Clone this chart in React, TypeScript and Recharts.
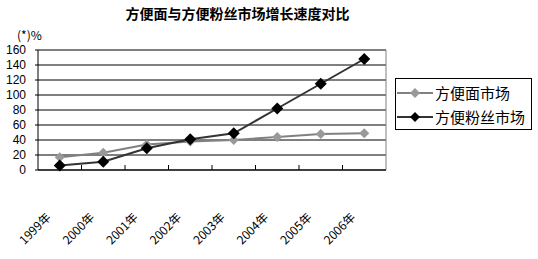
import { LineChart, Line, XAxis, YAxis, CartesianGrid, ReferenceLine } from 'recharts';

const years = ['1999年', '2000年', '2001年', '2002年', '2003年', '2004年', '2005年', '2006年'];
const noodles = [17, 23, 34, 38, 40, 44, 48, 49];
const vermicelli = [6, 11, 29, 41, 49, 82, 115, 148];
const yTicks = [0, 20, 40, 60, 80, 100, 120, 140, 160];

// categories sit at the middle of each band, tick marks at band edges
const data = years.map((year, i) => ({ pos: i + 0.5, year, noodles: noodles[i], vermicelli: vermicelli[i] }));
const xTicks = years.flatMap((_, i) => (i === 0 ? [i + 0.5] : [i, i + 0.5]));

const FONT = '"Noto Sans CJK SC", "Liberation Sans", sans-serif';

const Diamond = (props: any) => {
  const { cx, cy, fill, r = 5 } = props;
  if (cx == null || cy == null) return null;
  return <path d={`M${cx},${cy - r}L${cx + r},${cy}L${cx},${cy + r}L${cx - r},${cy}Z`} fill={fill} />;
};

const YearTick = (props: any) => {
  const { x, y, payload } = props;
  const v = payload.value;
  if (Number.isInteger(v)) {
    return <line x1={x} y1={y} x2={x} y2={y - 5} stroke="#000" />;
  }
  const label = years[Math.floor(v)];
  const tx = x - 8;
  const ty = y + 48;
  return (
    <text
      x={tx}
      y={ty}
      transform={`rotate(-45 ${tx} ${ty})`}
      textAnchor="end"
      fontSize={12}
      fontFamily={FONT}
      fill="#000"
    >
      {label}
    </text>
  );
};

const series = [
  { name: '方便面市场', line: '#808080', mark: '#999999' },
  { name: '方便粉丝市场', line: '#333333', mark: '#000000' },
];

const LegendBox = () => (
  <div
    style={{
      position: 'absolute',
      left: 395,
      top: 78,
      border: '1px solid #000',
      width: 135,
      height: 50,
      background: '#fff',
      fontFamily: FONT,
      fontSize: 15,
    }}
  >
    {series.map((s, i) => (
      <div key={s.name} style={{ display: 'flex', alignItems: 'center', height: 24, marginTop: i === 0 ? 2 : 0 }}>
        <svg width={38} height={12} style={{ marginLeft: 1 }}>
          <line x1={0} y1={6} x2={36} y2={6} stroke={s.line} strokeWidth={2} />
          <path d="M18,1L23,6L18,11L13,6Z" fill={s.mark} />
        </svg>
        <span style={{ whiteSpace: 'nowrap', lineHeight: '20px' }}>{s.name}</span>
      </div>
    ))}
  </div>
);

export default function App() {
  return (
    <div style={{ position: 'absolute', left: 0, top: 0, width: 538, height: 259, background: '#fff' }}>
      <div
        style={{
          position: 'absolute',
          left: 0,
          width: 475,
          top: 3,
          textAlign: 'center',
          fontFamily: FONT,
          fontWeight: 'bold',
          fontSize: 14,
        }}
      >
        方便面与方便粉丝市场增长速度对比
      </div>
      <div style={{ position: 'absolute', left: 17, top: 26, fontFamily: FONT, fontSize: 12 }}>(*)%</div>
      <LineChart width={538} height={259} data={data} margin={{ top: 50, right: 152, bottom: 0, left: 0 }}>
        <CartesianGrid vertical={false} stroke="#000" strokeWidth={1} />
        <XAxis
          dataKey="pos"
          type="number"
          domain={[0, 8]}
          ticks={xTicks}
          interval={0}
          height={89}
          tick={<YearTick />}
          tickSize={0}
          tickMargin={0}
          tickLine={false}
          axisLine={{ stroke: '#000' }}
        />
        <YAxis
          width={38}
          domain={[0, 160]}
          ticks={yTicks}
          interval={0}
          tickSize={3}
          tickMargin={9}
          tick={{ fontSize: 12, fill: '#000', fontFamily: '"Liberation Sans", sans-serif' }}
          tickLine={{ stroke: '#000' }}
          axisLine={{ stroke: '#000' }}
        />
        <ReferenceLine y={160} stroke="#808080" />
        <ReferenceLine x={8} stroke="#808080" />
        <Line
          dataKey="noodles"
          name="方便面市场"
          stroke="#808080"
          strokeWidth={2}
          dot={<Diamond fill="#999999" r={5} />}
          isAnimationActive={false}
        />
        <Line
          dataKey="vermicelli"
          name="方便粉丝市场"
          stroke="#333333"
          strokeWidth={2}
          dot={<Diamond fill="#000000" r={6} />}
          isAnimationActive={false}
        />
      </LineChart>
      <LegendBox />
    </div>
  );
}
